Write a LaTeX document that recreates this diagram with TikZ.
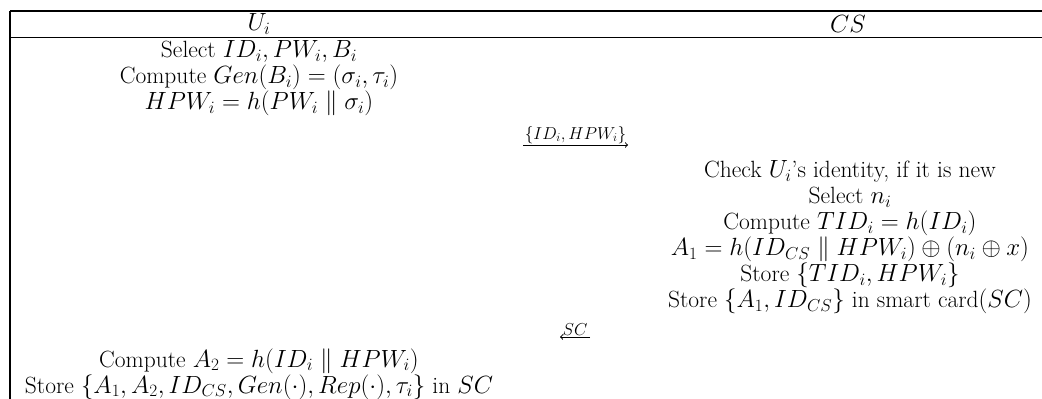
\documentclass[tikz,border=0pt]{standalone}
\usepackage{amsmath,amssymb}
\usepackage{tikz}
\usetikzlibrary{arrows,positioning,calc}

\begin{document}
\begin{tikzpicture}[x=1pt, y=-1pt,
    txt/.style={align=center, inner sep=0pt, font=\fontsize{23.5}{26}\selectfont},
    lbl/.style={inner sep=1pt, font=\fontsize{17}{19}\selectfont},
    rule/.style={line width=1.3pt},
    msg/.style={->, line width=1pt}]

    \useasboundingbox (0,0) rectangle (1042,399);

    % Table rules
    \coordinate (tl) at (10,11);
    \coordinate (tr) at (1042,11);
    \coordinate (hl) at (10,37.5);
    \coordinate (hr) at (1042,37.5);
    \coordinate (bl) at (10,399);
    \draw[rule] (tl) -- (tr);
    \draw[rule] (hl) -- (hr);
    \draw[rule] (tl) -- (bl);

    % Header
    \node[txt] (U) at (259,24) {$U_i$};
    \node[txt] (CS) at (848,24) {$CS$};

    % User side, registration request
    \node[txt] (reg1) at (259,78) {Select $ID_i, PW_i, B_i$\\
        Compute $Gen(B_i) = (\sigma_i, \tau_i)$\\
        $HPW_i = h(PW_i \parallel \sigma_i)$};

    % Server side
    \node[txt] (reg2) at (850,237) {Check $U_i$'s identity, if it is new\\
        Select $n_i$\\
        Compute $TID_i = h(ID_i)$\\
        $A_1 = h(ID_{CS} \parallel HPW_i) \oplus (n_i \oplus x)$\\
        Store $\{TID_i, HPW_i\}$\\
        Store $\{A_1, ID_{CS}\}$ in smart card$(SC)$};

    % User side, storing into card
    \node[txt] (reg3) at (259,374) {Compute $A_2 = h(ID_i \parallel HPW_i)$\\
        Store $\{A_1, A_2, ID_{CS}, Gen(\cdot), Rep(\cdot), \tau_i\}$ in $SC$};

    % Messages
    \coordinate (m1a) at (523,145);
    \coordinate (m1b) at (628,145);
    \draw[msg] (m1a) -- node[lbl, above] {$\{ID_i,HPW_i\}$} (m1b);

    \coordinate (m2a) at (590,337);
    \coordinate (m2b) at (560,337);
    \draw[msg] (m2a) -- node[lbl, above] {$SC$} (m2b);

\end{tikzpicture}
\end{document}
